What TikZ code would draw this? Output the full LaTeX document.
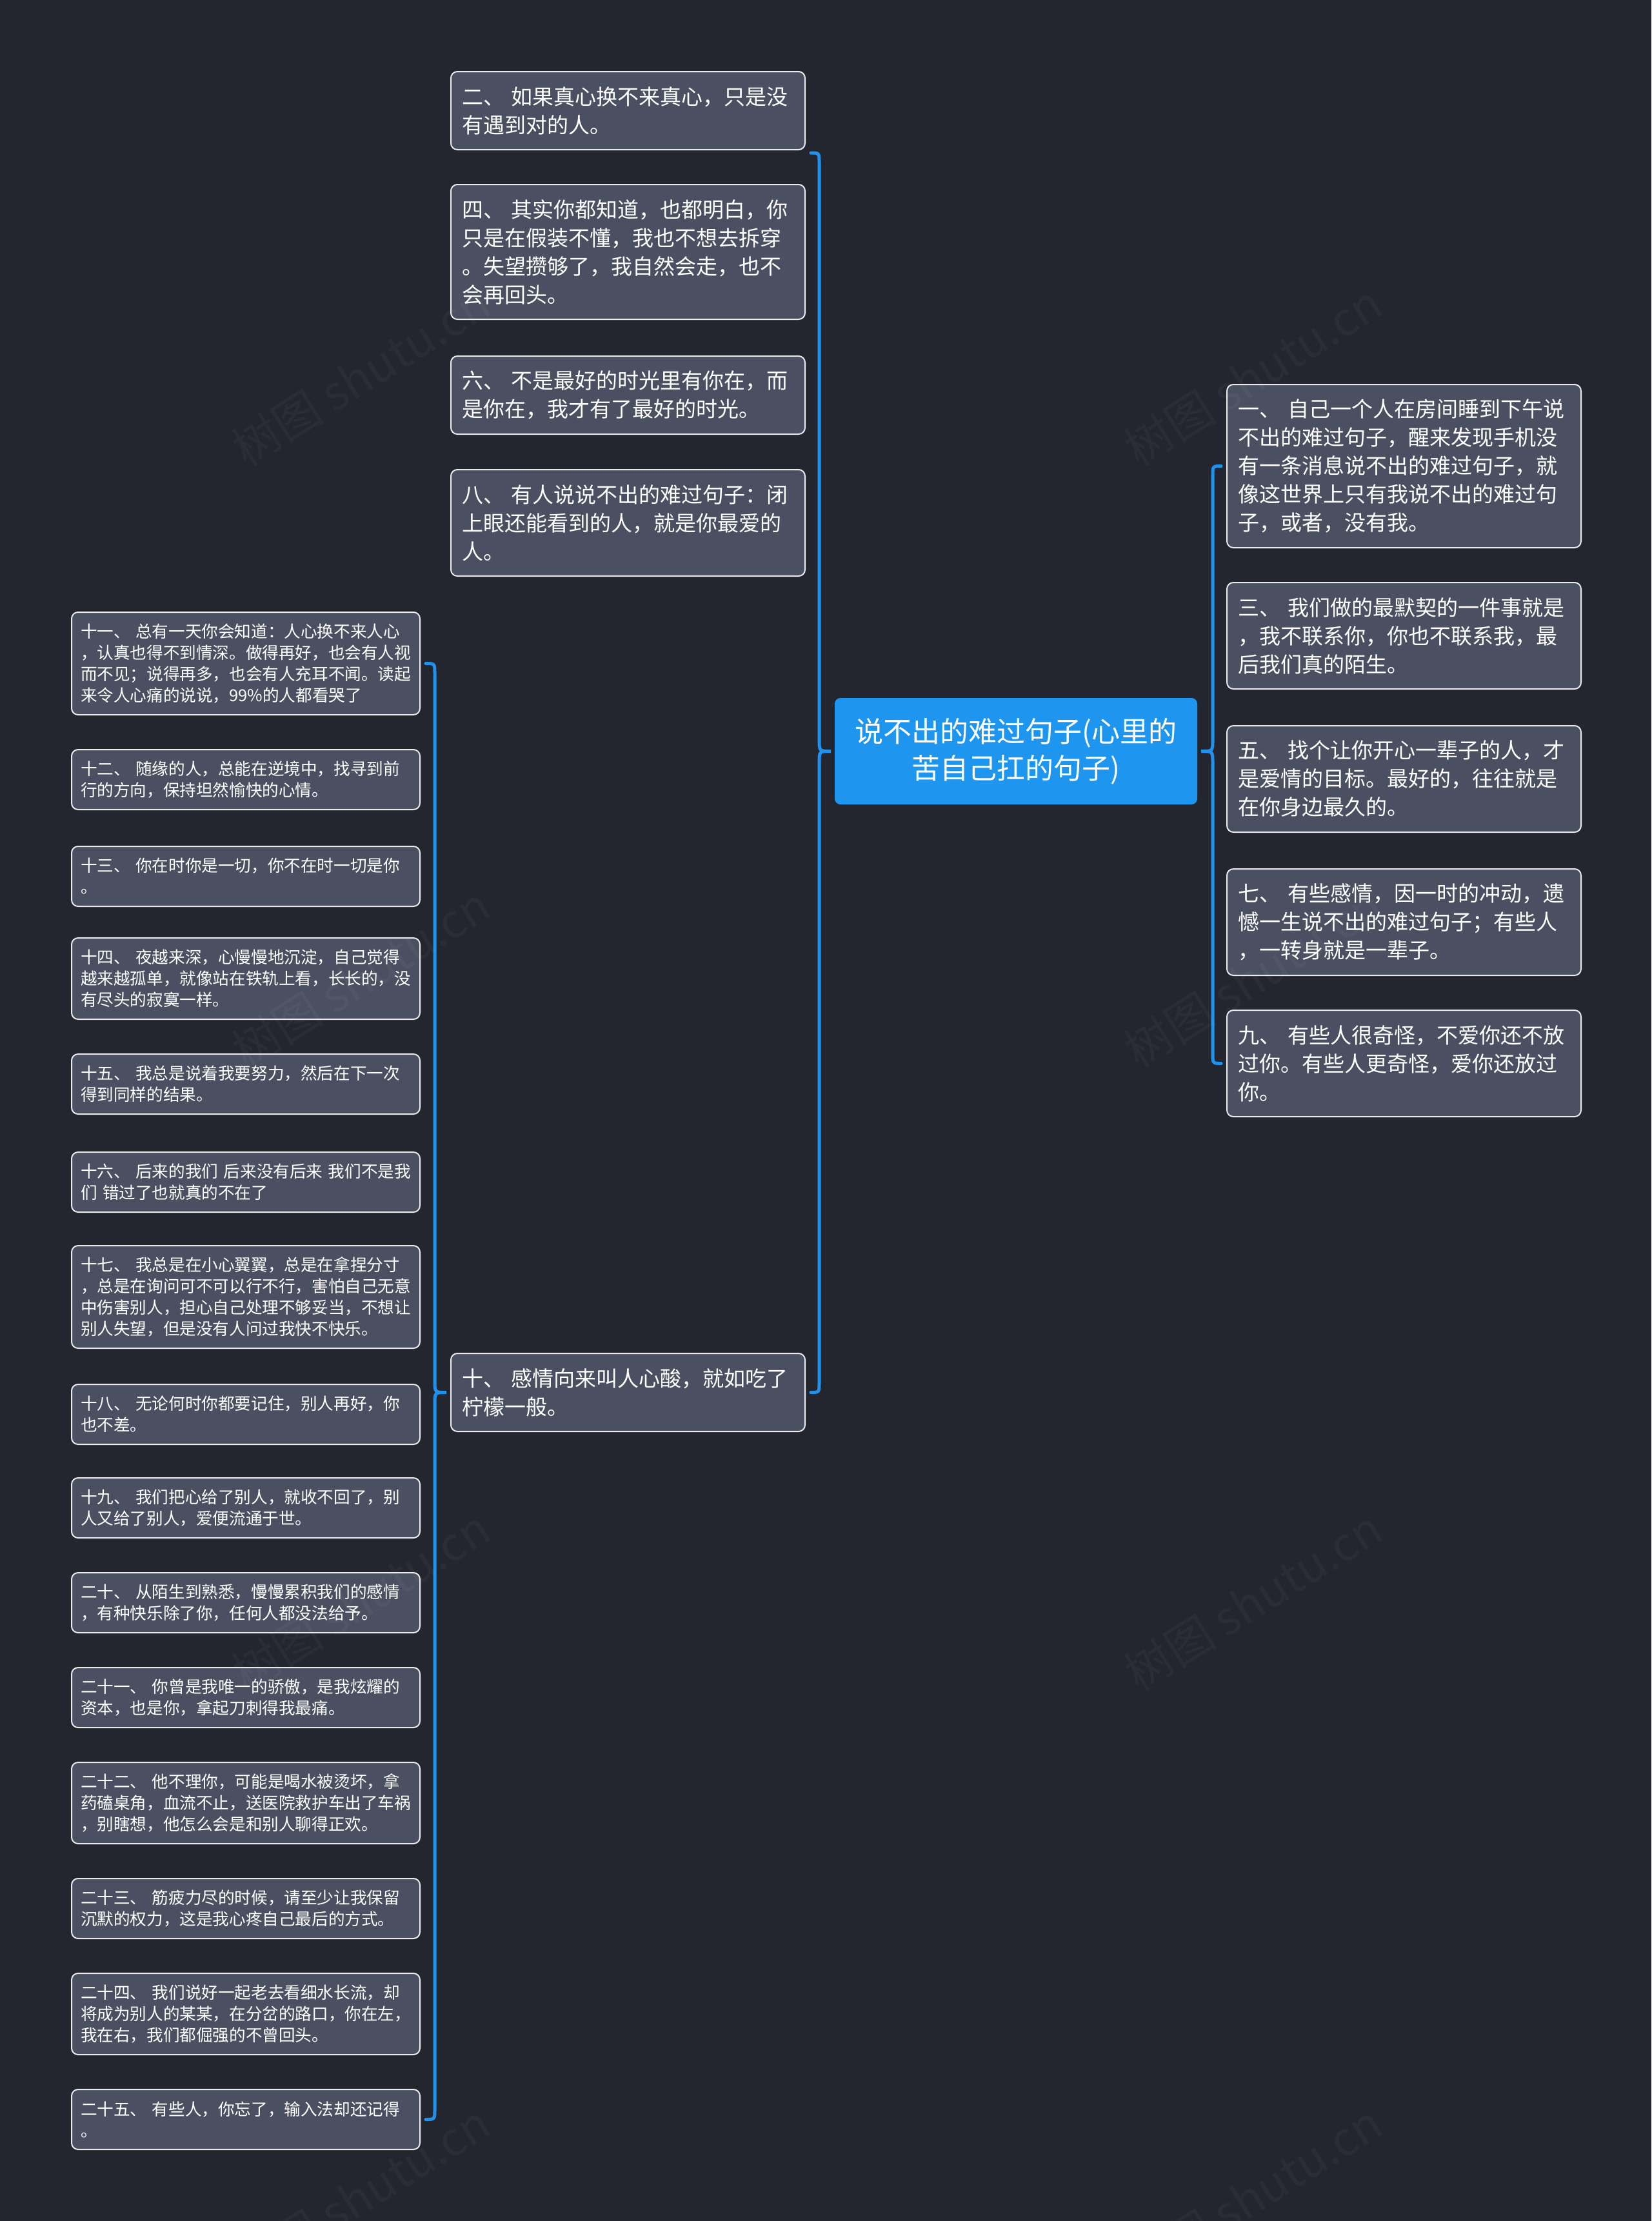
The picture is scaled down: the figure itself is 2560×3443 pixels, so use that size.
\documentclass[tikz,border=0pt]{standalone}
\usepackage{fontspec}
\newfontfamily\cjk{Noto Sans CJK SC}
\usetikzlibrary{calc}
\definecolor{bgc}{HTML}{23262F}
\definecolor{boxc}{HTML}{4A5061}
\definecolor{edgec}{HTML}{EAEAEA}
\definecolor{mainc}{HTML}{1E96EF}
\definecolor{linec}{HTML}{2192EC}
\begin{document}
\begin{tikzpicture}[x=0.5pt,y=-0.5pt,
  leaf/.style={draw=edgec, line width=1pt, fill=boxc, rounded corners=5pt, text=white,
    font=\cjk\fontsize{12.8}{16.5}\selectfont, align=left, anchor=north west,
    inner xsep=7pt, inner ysep=0pt, text width=256pt},
  mid/.style={draw=edgec, line width=1pt, fill=boxc, rounded corners=5pt, text=white,
    font=\cjk\fontsize{16.5}{22}\selectfont, align=left, anchor=north west,
    inner xsep=8.5pt, inner ysep=0pt, text width=257.5pt},
  root/.style={draw=mainc, line width=1pt, fill=mainc, rounded corners=4pt, text=white,
    font=\cjk\fontsize{22}{28.5}\selectfont, align=center, anchor=north west,
    inner xsep=8pt, inner ysep=0pt, text width=264pt},
  brace/.style={draw=linec, line width=2.5pt, line cap=round},
  wmark/.style={font=\cjk\fontsize{36}{36}\selectfont, text=white, opacity=0.035, rotate=32}
]
\useasboundingbox (0,0) rectangle (2560,3443);
\fill[bgc] (0,0) rectangle (2560,3443);

% root
\node[root, minimum height=81.5pt] (c) at (1294,1082) {说不出的难过句子(心里的\\苦自己扛的句子)};

% middle column
\node[mid, minimum height=60.5pt] (n2) at (698,110) {二、 如果真心换不来真心，只是没\\有遇到对的人。};
\node[mid, minimum height=104.5pt] (n4) at (698,285) {四、 其实你都知道，也都明白，你\\只是在假装不懂，我也不想去拆穿\\。失望攒够了，我自然会走，也不\\会再回头。};
\node[mid, minimum height=60.5pt] (n6) at (698,551) {六、 不是最好的时光里有你在，而\\是你在，我才有了最好的时光。};
\node[mid, minimum height=82.5pt] (n8) at (698,727) {八、 有人说说不出的难过句子：闭\\上眼还能看到的人，就是你最爱的\\人。};
\node[mid, minimum height=60.5pt] (n10) at (698,2097) {十、 感情向来叫人心酸，就如吃了\\柠檬一般。};

% right column
\node[mid, minimum height=126.5pt] (n1) at (1901,595) {一、 自己一个人在房间睡到下午说\\不出的难过句子，醒来发现手机没\\有一条消息说不出的难过句子，就\\像这世界上只有我说不出的难过句\\子，或者，没有我。};
\node[mid, minimum height=82.5pt] (n3) at (1901,902) {三、 我们做的最默契的一件事就是\\，我不联系你，你也不联系我，最\\后我们真的陌生。};
\node[mid, minimum height=82.5pt] (n5) at (1901,1124) {五、 找个让你开心一辈子的人，才\\是爱情的目标。最好的，往往就是\\在你身边最久的。};
\node[mid, minimum height=82.5pt] (n7) at (1901,1346) {七、 有些感情，因一时的冲动，遗\\憾一生说不出的难过句子；有些人\\，一转身就是一辈子。};
\node[mid, minimum height=82.5pt] (n9) at (1901,1565) {九、 有些人很奇怪，不爱你还不放\\过你。有些人更奇怪，爱你还放过\\你。};

% far-left column
\node[leaf, minimum height=79.5pt] (n11) at (110,948) {十一、 总有一天你会知道：人心换不来人心\\，认真也得不到情深。做得再好，也会有人视\\而不见；说得再多，也会有人充耳不闻。读起\\来令人心痛的说说，99\%的人都看哭了};
\node[leaf, minimum height=46.5pt] (n12) at (110,1161) {十二、 随缘的人，总能在逆境中，找寻到前\\行的方向，保持坦然愉快的心情。};
\node[leaf, minimum height=46.5pt] (n13) at (110,1311) {十三、 你在时你是一切，你不在时一切是你\\。};
\node[leaf, minimum height=63pt] (n14) at (110,1453) {十四、 夜越来深，心慢慢地沉淀，自己觉得\\越来越孤单，就像站在铁轨上看，长长的，没\\有尽头的寂寞一样。};
\node[leaf, minimum height=46.5pt] (n15) at (110,1633) {十五、 我总是说着我要努力，然后在下一次\\得到同样的结果。};
\node[leaf, minimum height=46.5pt] (n16) at (110,1785) {十六、 后来的我们 后来没有后来 我们不是我\\们 错过了也就真的不在了};
\node[leaf, minimum height=79.5pt] (n17) at (110,1930) {十七、 我总是在小心翼翼，总是在拿捏分寸\\，总是在询问可不可以行不行，害怕自己无意\\中伤害别人，担心自己处理不够妥当，不想让\\别人失望，但是没有人问过我快不快乐。};
\node[leaf, minimum height=46.5pt] (n18) at (110,2145) {十八、 无论何时你都要记住，别人再好，你\\也不差。};
\node[leaf, minimum height=46.5pt] (n19) at (110,2290) {十九、 我们把心给了别人，就收不回了，别\\人又给了别人，爱便流通于世。};
\node[leaf, minimum height=46.5pt] (n20) at (110,2437) {二十、 从陌生到熟悉，慢慢累积我们的感情\\，有种快乐除了你，任何人都没法给予。};
\node[leaf, minimum height=46.5pt] (n21) at (110,2584) {二十一、 你曾是我唯一的骄傲，是我炫耀的\\资本，也是你，拿起刀刺得我最痛。};
\node[leaf, minimum height=63pt] (n22) at (110,2731) {二十二、 他不理你，可能是喝水被烫坏，拿\\药磕桌角，血流不止，送医院救护车出了车祸\\，别瞎想，他怎么会是和别人聊得正欢。};
\node[leaf, minimum height=46.5pt] (n23) at (110,2911) {二十三、 筋疲力尽的时候，请至少让我保留\\沉默的权力，这是我心疼自己最后的方式。};
\node[leaf, minimum height=63pt] (n24) at (110,3058) {二十四、 我们说好一起老去看细水长流，却\\将成为别人的某某，在分岔的路口，你在左，\\我在右，我们都倔强的不曾回头。};
\node[leaf, minimum height=46.5pt] (n25) at (110,3238) {二十五、 有些人，你忘了，输入法却还记得\\。};

% main left brace
\coordinate (Lv) at ($(c.west)+(-24,0)$);
\coordinate (Ltip) at ($(c.west)+(-6,0)$);
\coordinate (Ltop) at ($(n2.south east)+(8,4)$);
\coordinate (Lbot) at ($(n10.east)+(8,0)$);
\draw[brace] (Ltop) .. controls (Lv |- Ltop) .. ($(Lv |- Ltop)+(0,16)$)
  -- ($(Lv)+(0,-18)$) .. controls (Lv) .. (Ltip) .. controls (Lv) .. ($(Lv)+(0,18)$)
  -- ($(Lv |- Lbot)+(0,-16)$) .. controls (Lv |- Lbot) .. (Lbot);

% right brace
\coordinate (Rv) at ($(c.east)+(24,0)$);
\coordinate (Rtip) at ($(c.east)+(6,0)$);
\coordinate (Rtop) at ($(n1.west)+(-8,0)$);
\coordinate (Rbot) at ($(n9.west)+(-8,0)$);
\draw[brace] (Rtop) .. controls (Rv |- Rtop) .. ($(Rv |- Rtop)+(0,16)$)
  -- ($(Rv)+(0,-18)$) .. controls (Rv) .. (Rtip) .. controls (Rv) .. ($(Rv)+(0,18)$)
  -- ($(Rv |- Rbot)+(0,-16)$) .. controls (Rv |- Rbot) .. (Rbot);

% far-left brace
\coordinate (Fv) at ($(n10.west)+(-24,0)$);
\coordinate (Ftip) at ($(n10.west)+(-6,0)$);
\coordinate (Ftop) at ($(n11.east)+(8,0)$);
\coordinate (Fbot) at ($(n25.east)+(8,0)$);
\draw[brace] (Ftop) .. controls (Fv |- Ftop) .. ($(Fv |- Ftop)+(0,16)$)
  -- ($(Fv)+(0,-18)$) .. controls (Fv) .. (Ftip) .. controls (Fv) .. ($(Fv)+(0,18)$)
  -- ($(Fv |- Fbot)+(0,-16)$) .. controls (Fv |- Fbot) .. (Fbot);

% watermarks
\node[wmark] (wm1) at (560,582) {树图 shutu.cn};
\node[wmark] (wm2) at (1943,582) {树图 shutu.cn};
\node[wmark] (wm3) at (560,1515) {树图 shutu.cn};
\node[wmark] (wm4) at (1943,1515) {树图 shutu.cn};
\node[wmark] (wm5) at (560,2481) {树图 shutu.cn};
\node[wmark] (wm6) at (1943,2481) {树图 shutu.cn};
\node[wmark] (wm7) at (560,3403) {树图 shutu.cn};
\node[wmark] (wm8) at (1943,3403) {树图 shutu.cn};
\end{tikzpicture}
\end{document}
